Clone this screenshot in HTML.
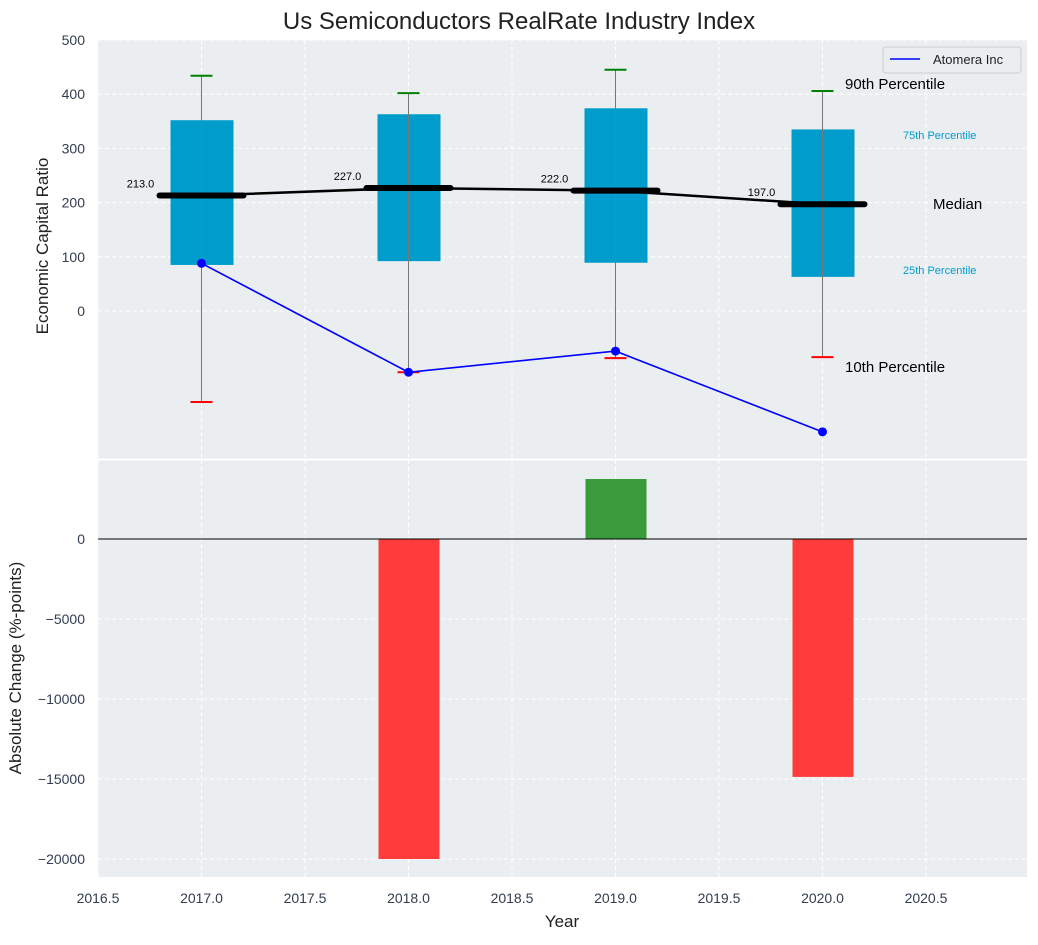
<!DOCTYPE html>
<html><head><meta charset="utf-8"><style>
body{margin:0;background:#fff;font-family:"Liberation Sans",sans-serif}
</style></head><body>
<svg id="c" width="1038" height="940" xmlns="http://www.w3.org/2000/svg" font-family="Liberation Sans, sans-serif"></svg>
<script>
const years=[2017,2018,2019,2020];
const p10=[-168,-113,-87,-85];
const p25=[85,92,89,63];
const median=[213,227,222,197];
const p75=[352,363,374,335];
const p90=[434,402,445,406];
const company=[88,-113,-74,-223];
const changes=[0,-20000,3750,-14870];
const xTicks=[2016.5,2017,2017.5,2018,2018.5,2019,2019.5,2020,2020.5];
const yTopTicks=[0,100,200,300,400,500];
const yBotTicks=[0,-5000,-10000,-15000,-20000];

const NS="http://www.w3.org/2000/svg";
const svg=document.getElementById('c');
const L=98,R=1027,T1=40,B1=459,T2=460,B2=877;
const x=v=>L+(v-2016.5)*207;
const y1=v=>311-v*0.542;
const y2=v=>539-v*0.016;
function el(t,a,name,txt){const e=document.createElementNS(NS,t);for(const k in a)e.setAttribute(k,a[k]);


if(txt!==undefined)e.textContent=txt;svg.appendChild(e);return e;}
el('rect',{x:L,y:T1,width:R-L,height:B1-T1,fill:'#eaeef0'},'top-plot-area');
el('rect',{x:L,y:T2,width:R-L,height:B2-T2,fill:'#eaeef0'},'bottom-plot-area');
xTicks.forEach(t=>{el('line',{x1:x(t),x2:x(t),y1:T1,y2:B1,stroke:'#fff','stroke-dasharray':'4,3'},'grid-x');
el('line',{x1:x(t),x2:x(t),y1:T2,y2:B2,stroke:'#fff','stroke-dasharray':'4,3'},'grid-x');
el('text',{x:x(t),y:903,'text-anchor':'middle','font-size':14,fill:'#333d4f'},'x-tick-label',t.toFixed(1));});
yTopTicks.forEach(t=>{el('line',{x1:L,x2:R,y1:y1(t),y2:y1(t),stroke:'#fff','stroke-dasharray':'4,3'},'grid-y');
el('text',{x:85,y:y1(t)+5,'text-anchor':'end','font-size':14,fill:'#333d4f'},'y-tick-label',t);});
yBotTicks.forEach(t=>{el('line',{x1:L,x2:R,y1:y2(t),y2:y2(t),stroke:'#fff','stroke-dasharray':'4,3'},'grid-y');
el('text',{x:85,y:y2(t)+5,'text-anchor':'end','font-size':14,fill:'#333d4f'},'y-tick-label',t<0?'\u2212'+(-t):t);});
years.forEach((yr,i)=>{
 const cx=x(yr);
 el('rect',{x:cx-31,y:y1(p75[i]),width:63,height:y1(p25[i])-y1(p75[i]),fill:'#009ccc'},'iqr-box');
 el('line',{x1:cx,x2:cx,y1:y1(p90[i]),y2:y1(p10[i]),stroke:'#777','stroke-width':1},'whisker');
 el('line',{x1:cx-11,x2:cx+11,y1:y1(p90[i]),y2:y1(p90[i]),stroke:'green','stroke-width':2},'p90-cap');
 el('line',{x1:cx-11,x2:cx+11,y1:y1(p10[i]),y2:y1(p10[i]),stroke:'red','stroke-width':2},'p10-cap');
 el('text',{x:cx-61,y:y1(median[i])-8,'text-anchor':'middle','font-size':11},'median-label',median[i].toFixed(1));
});
el('polyline',{points:years.map((yr,i)=>x(yr)+','+y1(median[i])).join(' '),fill:'none',stroke:'#000','stroke-width':2.5},'median-line');
years.forEach((yr,i)=>el('line',{x1:x(yr)-42,x2:x(yr)+42,y1:y1(median[i]),y2:y1(median[i]),stroke:'#000','stroke-width':6,'stroke-linecap':'round'},'median-marker'));
el('polyline',{points:years.map((yr,i)=>x(yr)+','+y1(company[i])).join(' '),fill:'none',stroke:'blue','stroke-width':1.6},'company-line');
years.forEach((yr,i)=>el('circle',{cx:x(yr),cy:y1(company[i]),r:4.5,fill:'blue'},'company-point'));
changes.forEach((v,i)=>{if(!v)return;const yt=Math.min(y2(v),y2(0));
 el('rect',{x:x(years[i])-30,y:yt,width:61,height:Math.abs(y2(v)-y2(0)),fill:v<0?'#ff3c3c':'#3a9b3a'},'change-bar');});
el('line',{x1:L,x2:R,y1:y2(0),y2:y2(0),stroke:'#000','stroke-width':1},'zero-line');
el('line',{x1:L,x2:R,y1:459.5,y2:459.5,stroke:'#fff','stroke-width':2},'axes-separator');
el('text',{x:845,y:89,'font-size':15},'p90-annotation','90th Percentile');
el('text',{x:845,y:372,'font-size':15},'p10-annotation','10th Percentile');
el('text',{x:933,y:209,'font-size':15},'median-annotation','Median');
el('text',{x:903,y:139,'font-size':11,fill:'#009ccc'},'p75-annotation','75th Percentile');
el('text',{x:903,y:274,'font-size':11,fill:'#009ccc'},'p25-annotation','25th Percentile');
el('rect',{x:883,y:47,width:138,height:26,rx:3,fill:'#eaeef0',stroke:'#ccc'},'legend');
el('line',{x1:890,x2:920,y1:59,y2:59,stroke:'blue','stroke-width':1.6},'legend-swatch');
el('text',{x:933,y:64,'font-size':13,fill:'#222'},'legend-label','Atomera Inc');
el('text',{x:519,y:29,'text-anchor':'middle','font-size':24,fill:'#222'},'chart-title','Us Semiconductors RealRate Industry Index');
el('text',{x:562,y:927,'text-anchor':'middle','font-size':17,fill:'#222'},'x-axis-title','Year');
el('text',{x:48,y:246,'text-anchor':'middle','font-size':17,fill:'#222',transform:'rotate(-90 48 246)'},'y-axis-title-top','Economic Capital Ratio');
el('text',{x:21,y:668,'text-anchor':'middle','font-size':17,fill:'#222',transform:'rotate(-90 21 668)'},'y-axis-title-bottom','Absolute Change (%-points)');
</script>
</body></html>
